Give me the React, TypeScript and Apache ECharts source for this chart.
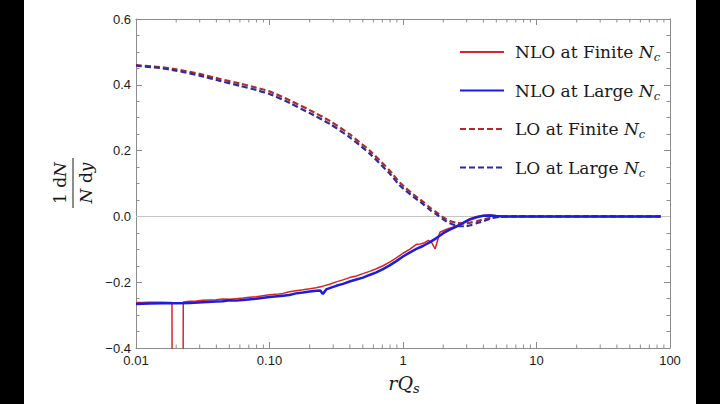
import React, { useEffect, useRef } from 'react';
import * as echarts from 'echarts';

// ---- tick labels ----
const xTickLabels: Record<string, string> = { '-2': '0.01', '-1': '0.10', '0': '1', '1': '10', '2': '100' };
const xMinorMultipliers = [2, 3, 4, 5, 6, 7, 8, 9];
const xDecades = [0.01, 0.1, 1, 10];

// ---- series names ----
const seriesNames = ['NLO at Finite Nc', 'NLO at Large Nc', 'LO at Finite Nc', 'LO at Large Nc'];

// ---- LO curves ----
const loX = [0.01, 0.015, 0.02, 0.03, 0.0434, 0.06, 0.08, 0.1, 0.143, 0.2, 0.284, 0.4, 0.566, 0.8, 0.95, 1.2, 1.4, 1.6, 1.8, 2.0, 2.25, 2.55, 2.9, 3.2, 3.6, 4.1, 4.7, 5.3, 7, 10, 20, 40, 85];
const loLarge = [0.458, 0.451, 0.443, 0.428, 0.411, 0.397, 0.384, 0.372, 0.344, 0.314, 0.281, 0.240, 0.190, 0.129, 0.093, 0.059, 0.039, 0.019, 0.005, -0.009, -0.021, -0.029, -0.030, -0.027, -0.020, -0.013, -0.005, -0.001, 0, 0, 0, 0, 0];
const loFinite = [0.460, 0.454, 0.447, 0.433, 0.417, 0.404, 0.391, 0.380, 0.352, 0.323, 0.290, 0.249, 0.199, 0.138, 0.102, 0.066, 0.046, 0.026, 0.011, -0.003, -0.014, -0.020, -0.022, -0.019, -0.014, -0.008, -0.003, 0, 0, 0, 0, 0, 0];

// ---- NLO finite Nc ----
const nloFiniteX = [0.01, 0.0112, 0.0126, 0.0141, 0.0158, 0.0178, 0.0186, 0.0189, 0.0222, 0.0226, 0.0251, 0.0282, 0.0316, 0.0355, 0.0398, 0.0447, 0.0501, 0.0562, 0.0631, 0.0708, 0.0794, 0.0891, 0.1, 0.112, 0.126, 0.141, 0.158, 0.178, 0.2, 0.224, 0.251, 0.282, 0.316, 0.355, 0.398, 0.447, 0.501, 0.562, 0.631, 0.708, 0.794, 0.891, 1.0, 1.12, 1.26, 1.35, 1.45, 1.55, 1.65, 1.74, 1.89, 2.1, 2.35, 2.6, 2.9, 3.16, 3.55, 3.98, 4.47, 5.0, 5.6, 7.0, 10, 20, 40, 85];
const nloFinite = [-0.262, -0.262, -0.261, -0.261, -0.261, -0.262, -0.262, -1.5, -1.5, -0.260, -0.258, -0.257, -0.255, -0.254, -0.253, -0.251, -0.252, -0.250, -0.248, -0.246, -0.244, -0.241, -0.238, -0.237, -0.234, -0.229, -0.226, -0.223, -0.220, -0.217, -0.212, -0.206, -0.199, -0.193, -0.186, -0.181, -0.174, -0.167, -0.159, -0.150, -0.139, -0.126, -0.112, -0.100, -0.085, -0.084, -0.080, -0.073, -0.081, -0.099, -0.048, -0.040, -0.033, -0.026, -0.016, -0.007, 0.000, 0.003, 0.004, 0.002, 0, 0, 0, 0, 0, 0];

// ---- NLO large Nc ----
const nloLargeX = [0.01, 0.0126, 0.0158, 0.02, 0.0251, 0.0316, 0.0398, 0.0447, 0.0501, 0.0562, 0.0631, 0.0794, 0.1, 0.126, 0.141, 0.158, 0.178, 0.2, 0.224, 0.240, 0.251, 0.266, 0.282, 0.316, 0.355, 0.398, 0.447, 0.501, 0.562, 0.631, 0.708, 0.794, 0.891, 1.0, 1.12, 1.26, 1.41, 1.58, 1.78, 2.0, 2.24, 2.51, 2.82, 3.16, 3.55, 3.98, 4.47, 5.0, 5.6, 7.0, 10, 20, 40, 85];
const nloLarge = [-0.266, -0.265, -0.264, -0.264, -0.263, -0.261, -0.259, -0.258, -0.255, -0.256, -0.254, -0.250, -0.245, -0.241, -0.239, -0.234, -0.231, -0.228, -0.226, -0.225, -0.236, -0.222, -0.218, -0.211, -0.205, -0.198, -0.192, -0.186, -0.178, -0.170, -0.160, -0.149, -0.136, -0.122, -0.110, -0.099, -0.090, -0.079, -0.066, -0.051, -0.040, -0.031, -0.020, -0.010, -0.003, 0.002, 0.003, 0.001, 0, 0, 0, 0, 0, 0];

const SERIF = '"DejaVu Serif", "Liberation Serif", serif';
const SANS = '"Liberation Sans", Arial, sans-serif';
const FRAME = '#8c8c8c';
const TXT = '#1a1a1a';

const zip = (xs: number[], ys: number[]) => xs.map((x, i) => [x, ys[i]]);

export default function App() {
  const ref = useRef<HTMLDivElement>(null);

  useEffect(() => {
    if (!ref.current) return;
    const chart = echarts.init(ref.current, undefined, { renderer: 'svg' });

    const minorTicks: number[][] = [];
    xDecades.forEach((d) => xMinorMultipliers.forEach((m) => minorTicks.push([d * m, 0])));

    const sharedAxisX = {
      type: 'log' as const,
      logBase: 10,
      min: 0.01,
      max: 100,
      axisLine: { show: true, onZero: false, lineStyle: { color: FRAME, width: 1 } },
      axisTick: { show: true, inside: true, length: 6, lineStyle: { color: FRAME } },
      splitLine: { show: false },
    };
    const sharedAxisY = {
      type: 'value' as const,
      min: -0.4,
      max: 0.6,
      interval: 0.2,
      axisLine: { show: true, onZero: false, lineStyle: { color: FRAME, width: 1 } },
      axisTick: { show: true, inside: true, length: 6, lineStyle: { color: FRAME } },
      minorTick: { show: true, splitNumber: 4, length: 3.5, lineStyle: { color: FRAME } },
      splitLine: { show: false },
    };

    const richLegend = {
      i: { fontFamily: SERIF, fontStyle: 'italic', fontSize: 17, lineHeight: 22, color: TXT },
      s: { fontFamily: SERIF, fontStyle: 'italic', fontSize: 11.5, lineHeight: 11, verticalAlign: 'bottom', color: TXT },
    };

    const richMath = {
      i: { fontFamily: SERIF, fontStyle: 'italic', fontSize: 17, color: TXT },
    };

    chart.setOption({
      animation: false,
      backgroundColor: '#ffffff',
      grid: { left: 136, top: 19, width: 534, height: 329, containLabel: false },
      xAxis: [
        {
          ...sharedAxisX,
          position: 'bottom',
          axisLabel: {
            show: true,
            margin: 6,
            fontFamily: SANS,
            fontSize: 13,
            color: TXT,
            formatter: (v: number) => xTickLabels[String(Math.round(Math.log10(v)))] ?? '',
          },
        },
        { ...sharedAxisX, position: 'top', axisLabel: { show: false } },
      ],
      yAxis: [
        {
          ...sharedAxisY,
          position: 'left',
          axisLabel: {
            show: true,
            margin: 5,
            fontFamily: SANS,
            fontSize: 13,
            color: TXT,
            formatter: (v: number) => v.toFixed(1).replace('-', '\u2212'),
          },
        },
        { ...sharedAxisY, position: 'right', axisLabel: { show: false } },
      ],
      legend: {
        show: true,
        orient: 'vertical',
        left: 459,
        top: 41,
        padding: 0,
        itemWidth: 44,
        itemHeight: 14,
        itemGap: 16.5,
        data: seriesNames,
        itemStyle: { opacity: 0 },
        formatter: (name: string) => name.replace(/ Nc$/, ' {i|N}{s|c}'),
        textStyle: {
          fontFamily: SERIF,
          fontSize: 17,
          lineHeight: 22,
          color: TXT,
          padding: [0, 0, 0, 6],
          rich: richLegend,
        },
      },
      graphic: [
        { type: 'rect', left: 0, top: 0, shape: { width: 24, height: 404 }, style: { fill: '#000' }, z: 100 },
        { type: 'rect', left: 696, top: 0, shape: { width: 24, height: 404 }, style: { fill: '#000' }, z: 100 },
        {
          type: 'group',
          x: 73,
          y: 183,
          rotation: Math.PI / 2,
          children: [
            {
              type: 'text',
              x: 0,
              y: -13,
              style: { text: '1 d{i|N}', rich: richMath, fontFamily: SERIF, fontSize: 17, fill: TXT, align: 'center', verticalAlign: 'middle' },
            },
            { type: 'line', shape: { x1: -25, y1: 0, x2: 25, y2: 0 }, style: { stroke: TXT, lineWidth: 1 } },
            {
              type: 'text',
              x: 0,
              y: 13,
              style: { text: '{i|N} d{i|y}', rich: richMath, fontFamily: SERIF, fontSize: 17, fill: TXT, align: 'center', verticalAlign: 'middle' },
            },
          ],
        },
        {
          type: 'text',
          x: 404,
          y: 383,
          style: {
            text: '{i|rQ}{s|s}',
            rich: {
              i: { fontFamily: SERIF, fontStyle: 'italic', fontSize: 19, lineHeight: 24, color: TXT },
              s: { fontFamily: SERIF, fontStyle: 'italic', fontSize: 13, lineHeight: 12, verticalAlign: 'bottom', color: TXT },
            },
            fontFamily: SERIF,
            fontSize: 19,
            fill: TXT,
            align: 'center',
            verticalAlign: 'middle',
          },
        },
      ],
      series: [
        {
          name: 'minorTicks',
          type: 'custom',
          xAxisIndex: 0,
          yAxisIndex: 0,
          silent: true,
          clip: false,
          data: minorTicks,
          renderItem: (_params: any, api: any) => {
            const v = api.value(0);
            const b = api.coord([v, -0.4]);
            const t = api.coord([v, 0.6]);
            return {
              type: 'group',
              children: [
                { type: 'line', shape: { x1: b[0], y1: b[1], x2: b[0], y2: b[1] - 3.5 }, style: { stroke: FRAME, lineWidth: 1 } },
                { type: 'line', shape: { x1: t[0], y1: t[1], x2: t[0], y2: t[1] + 3.5 }, style: { stroke: FRAME, lineWidth: 1 } },
              ],
            };
          },
          z: 1,
        },
        {
          name: seriesNames[2],
          type: 'line',
          data: zip(loX, loFinite),
          symbol: 'none',
          smooth: 0.2,
          color: '#b02a2a',
          lineStyle: { color: '#b02a2a', width: 2.2, type: [6, 3] },
          z: 3,
          markLine: {
            silent: true,
            symbol: ['none', 'none'],
            label: { show: false },
            lineStyle: { color: '#c4c4c4', width: 1, type: 'solid' },
            data: [{ yAxis: 0 }],
            z: 1,
          },
        },
        {
          name: seriesNames[3],
          type: 'line',
          data: zip(loX, loLarge),
          symbol: 'none',
          smooth: 0.2,
          color: '#2b2ba8',
          lineStyle: { color: '#2b2ba8', width: 2.2, type: [6, 3] },
          z: 3,
        },
        {
          name: seriesNames[0],
          type: 'line',
          data: zip(nloFiniteX, nloFinite),
          symbol: 'none',
          color: '#d92424',
          lineStyle: { color: '#d92424', width: 1.5 },
          z: 4,
        },
        {
          name: seriesNames[1],
          type: 'line',
          data: zip(nloLargeX, nloLarge),
          symbol: 'none',
          color: '#1c1ce0',
          lineStyle: { color: '#1c1ce0', width: 2.5 },
          z: 5,
        },
      ],
    });

    return () => chart.dispose();
  }, []);

  return (
    <div style={{ position: 'fixed', left: 0, top: 0, width: 720, height: 404, background: '#fff' }}>
      <div ref={ref} style={{ width: 720, height: 404 }} />
    </div>
  );
}
